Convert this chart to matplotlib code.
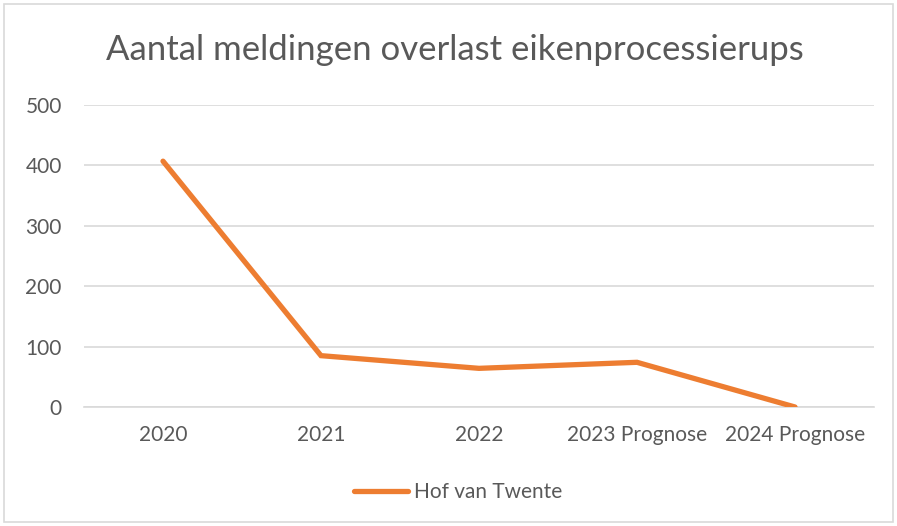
import matplotlib
matplotlib.use("Agg")
import matplotlib.pyplot as plt
from matplotlib.patches import Rectangle

categories = ["2020", "2021", "2022", "2023 Prognose", "2024 Prognose"]
values = [407, 85, 64, 74, 0]
series_name = "Hof van Twente"
title = "Aantal meldingen overlast eikenprocessierups"
yticks = [0, 100, 200, 300, 400, 500]

plt.rcParams['font.family'] = ['Lato', 'DejaVu Sans']
grey = "#595959"

fig = plt.figure(figsize=(8.97, 5.26), dpi=100)
fig.patches.append(Rectangle((0.005, 0.008), 0.99, 0.984, transform=fig.transFigure,
                             fill=False, edgecolor="#D9D9D9", linewidth=1.2))
ax = fig.add_axes([84/897, 1 - 407/526, (874-84)/897, (407-105)/526])
x = list(range(len(categories)))
ax.plot(x, values, color="#ED7D31", linewidth=3.8, solid_capstyle="round",
        solid_joinstyle="miter", label=series_name, zorder=3)
ax.set_xlim(-0.5, len(categories) - 0.5)
ax.set_ylim(0, 500)
ax.set_yticks(yticks)
ax.set_xticks(x)
ax.set_xticklabels(categories)
for s in ["top", "right", "left"]:
    ax.spines[s].set_visible(False)
ax.spines["bottom"].set_color("#D9D9D9")
ax.spines["bottom"].set_linewidth(1.2)
ax.grid(axis="y", color="#D9D9D9", linewidth=1.2, zorder=0)
ax.tick_params(axis="both", length=0, labelsize=15, colors=grey)
ax.tick_params(axis="y", pad=16)
ax.tick_params(axis="x", pad=13)
ax.set_axisbelow(True)

fig.text(455/897, 1 - 50/526, title, ha="center", va="center", fontsize=25, color=grey)
leg = fig.legend(loc="center", bbox_to_anchor=(458/897, 1 - 492/526), frameon=False,
                 fontsize=15, handlelength=2.6, handletextpad=0.25)
for t in leg.get_texts():
    t.set_color(grey)

fig.savefig("out.png", dpi=100)
